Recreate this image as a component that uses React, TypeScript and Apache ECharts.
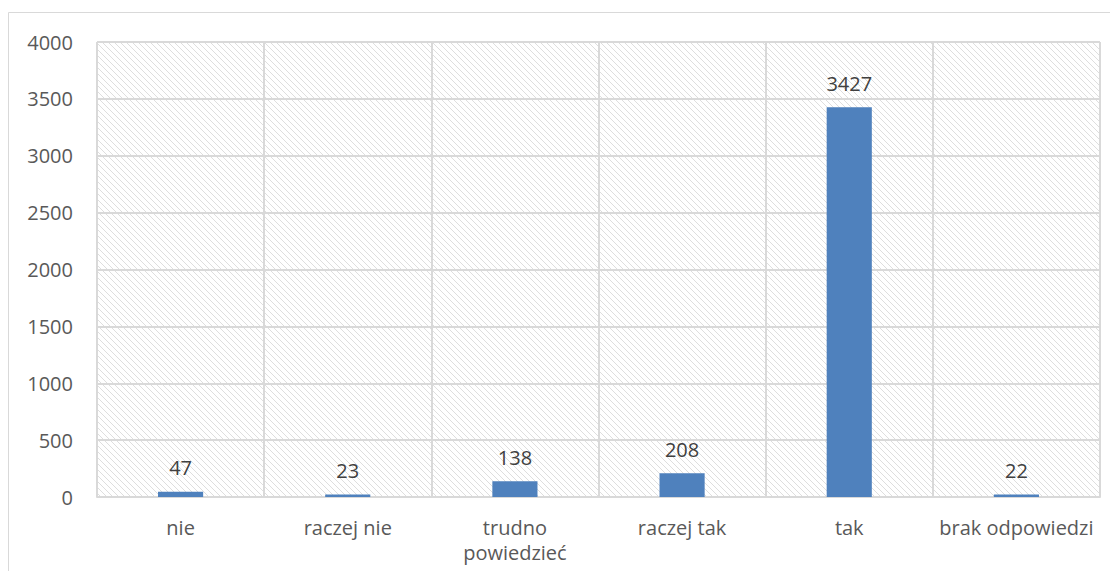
import React, { useEffect, useRef } from "react";
import * as echarts from "echarts";

const categories = ["nie", "raczej nie", "trudno\npowiedzieć", "raczej tak", "tak", "brak odpowiedzi"];
const values = [47, 23, 138, 208, 3427, 22];
const yTicks = [0, 500, 1000, 1500, 2000, 2500, 3000, 3500, 4000];

function makeHatch(): HTMLCanvasElement {
  const c = document.createElement("canvas");
  const s = 6;
  c.width = s;
  c.height = s;
  const ctx = c.getContext("2d")!;
  ctx.fillStyle = "#ffffff";
  ctx.fillRect(0, 0, s, s);
  ctx.strokeStyle = "#dedede";
  ctx.lineWidth = 1;
  ctx.beginPath();
  ctx.moveTo(-1, -1);
  ctx.lineTo(s + 1, s + 1);
  ctx.moveTo(-1, s - 1);
  ctx.lineTo(1, s + 1);
  ctx.moveTo(s - 1, -1);
  ctx.lineTo(s + 1, 1);
  ctx.stroke();
  return c;
}

export default function App() {
  const ref = useRef<HTMLDivElement>(null);
  useEffect(() => {
    if (!ref.current) return;
    const chart = echarts.init(ref.current, undefined, { renderer: "svg" });
    const hatch = makeHatch();
    const font = "'Open Sans', sans-serif";
    chart.setOption({
      animation: false,
      graphic: [
        {
          type: "rect",
          shape: { x: 0.5, y: 4.5, width: 1300, height: 900 },
          style: { fill: "none", stroke: "#d9d9d9", lineWidth: 1 },
          silent: true,
          z: -10,
        },
      ],
      grid: {
        left: 89,
        top: 34,
        right: 10,
        bottom: 74,
        show: true,
        backgroundColor: { image: hatch.toDataURL(), repeat: "repeat" },
        borderWidth: 0,
      },
      xAxis: {
        type: "category",
        data: categories,
        axisLine: { show: true, lineStyle: { color: "#d9d9d9", width: 2 } },
        axisTick: { show: false },
        splitLine: { show: true, lineStyle: { color: "#d9d9d9", width: 2 } },
        axisLabel: {
          color: "#595959",
          fontFamily: font,
          fontSize: 20,
          margin: 18,
          lineHeight: 25,
          interval: 0,
        },
      },
      yAxis: {
        type: "value",
        min: yTicks[0],
        max: yTicks[yTicks.length - 1],
        interval: 500,
        axisLine: { show: false },
        axisTick: { show: false },
        splitLine: { show: true, lineStyle: { color: "#d9d9d9", width: 2 } },
        axisLabel: {
          color: "#595959",
          fontFamily: font,
          fontSize: 20,
          margin: 24,
          formatter: (v: number) => String(v),
        },
      },
      series: [
        {
          type: "bar",
          data: values,
          barWidth: "27%",
          itemStyle: { color: "#4f81bd" },
          label: {
            show: true,
            position: "top",
            distance: 14,
            color: "#404040",
            fontFamily: font,
            fontSize: 20,
          },
        },
      ],
    });
    return () => chart.dispose();
  }, []);
  return <div ref={ref} style={{ width: 1102, height: 563 }} />;
}
